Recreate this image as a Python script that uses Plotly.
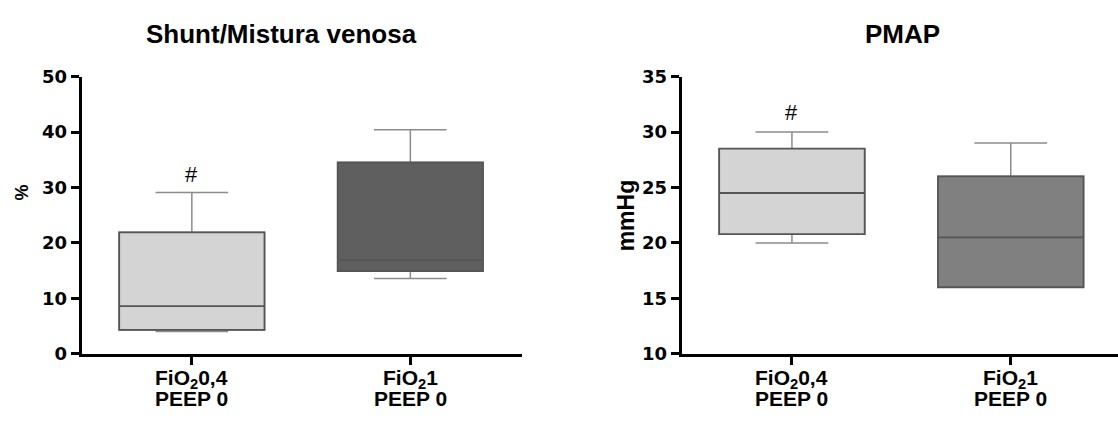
import plotly.graph_objects as go

# ---- data ----
cat_line1 = ["FiO<sub>2</sub>0,4", "FiO<sub>2</sub>1"]
cat_line2 = ["PEEP 0", "PEEP 0"]

shunt_min = [4.0, 13.6]
shunt_q1 = [4.3, 14.9]
shunt_median = [8.6, 16.9]
shunt_q3 = [21.9, 34.5]
shunt_max = [29.1, 40.4]
shunt_mark_y = [32.4]

pmap_min = [20.0, 16.0]
pmap_q1 = [20.8, 16.0]
pmap_median = [24.5, 20.5]
pmap_q3 = [28.5, 26.0]
pmap_max = [30.0, 29.0]
pmap_mark_y = [31.8]

shunt_colors = ["#d4d4d4", "#5f5f5f"]
pmap_colors = ["#d4d4d4", "#808080"]

W, H = 1118, 423
fig = go.Figure()
FONT = "Liberation Sans, Arial, sans-serif"
TICKFONT = "DejaVu Sans, sans-serif"


def add_boxes(xa, ya, mins, q1s, meds, q3s, maxs, colors):
    for i in range(len(cat_line1)):
        # whiskers (lighter line)
        fig.add_trace(go.Box(
            x=[i], q1=[q1s[i]], median=[meds[i]], q3=[q3s[i]],
            lowerfence=[mins[i]], upperfence=[maxs[i]],
            fillcolor=colors[i], line=dict(color="#8c8c8c", width=1.5),
            width=0.665, whiskerwidth=0.5, boxpoints=False,
            xaxis=xa, yaxis=ya, showlegend=False, hoverinfo="skip",
        ))
        # box body (darker outline)
        fig.add_trace(go.Box(
            x=[i], q1=[q1s[i]], median=[meds[i]], q3=[q3s[i]],
            lowerfence=[q1s[i]], upperfence=[q3s[i]],
            fillcolor=colors[i], line=dict(color="#555555", width=1.8),
            width=0.665, whiskerwidth=0.0, boxpoints=False,
            xaxis=xa, yaxis=ya, showlegend=False, hoverinfo="skip",
        ))


add_boxes("x", "y", shunt_min, shunt_q1, shunt_median, shunt_q3, shunt_max, shunt_colors)
add_boxes("x2", "y2", pmap_min, pmap_q1, pmap_median, pmap_q3, pmap_max, pmap_colors)

ydom = [0.1473, 0.8369]
axis_common = dict(showline=True, linecolor="black", linewidth=3, ticks="outside",
                   ticklen=8, tickwidth=3, tickcolor="black", showgrid=False, zeroline=False,
                   tickfont=dict(family=TICKFONT, size=18, color="black", weight="bold"))

fig.update_layout(
    width=W, height=H, margin=dict(l=0, r=0, t=0, b=0),
    paper_bgcolor="white", plot_bgcolor="white",
    xaxis=dict(domain=[0.0731, 0.4667], range=[-0.504, 1.51], tickvals=[0, 1],
               showticklabels=False, anchor="y", **axis_common),
    yaxis=dict(domain=ydom, range=[0, 50], tickvals=[0, 10, 20, 30, 40, 50], anchor="x",
               **axis_common),
    xaxis2=dict(domain=[0.6097, 1.0], range=[-0.504, 1.49], tickvals=[0, 1],
                showticklabels=False, anchor="y2", **axis_common),
    yaxis2=dict(domain=ydom, range=[10, 35], tickvals=[10, 15, 20, 25, 30, 35], anchor="x2",
                **axis_common),
)

bold = lambda s: dict(family=FONT, size=s, color="black", weight="bold")
ann = [
    dict(text="Shunt/Mistura venosa", x=281 / W, y=1 - 24 / H, xref="paper", yref="paper",
         xanchor="center", yanchor="middle", showarrow=False, font=bold(26)),
    dict(text="PMAP", x=902 / W, y=1 - 24 / H, xref="paper", yref="paper",
         xanchor="center", yanchor="middle", showarrow=False, font=bold(26)),
    dict(text="%", x=22 / W, y=1 - 191 / H, xref="paper", yref="paper", textangle=-90,
         xanchor="center", yanchor="middle", showarrow=False, font=bold(18)),
    dict(text="mmHg", x=626 / W, y=1 - 215 / H, xref="paper", yref="paper", textangle=-90,
         xanchor="center", yanchor="middle", showarrow=False, font=bold(23)),
    dict(text="#", x=0, y=shunt_mark_y[0], xref="x", yref="y", showarrow=False,
         xanchor="center", yanchor="middle", font=dict(family=FONT, size=22, color="black")),
    dict(text="#", x=0, y=pmap_mark_y[0], xref="x2", yref="y2", showarrow=False,
         xanchor="center", yanchor="middle", font=dict(family=FONT, size=22, color="black")),
]
for xa in ["x", "x2"]:
    for i in range(len(cat_line1)):
        ann.append(dict(text=cat_line1[i], x=i, y=1 - 387.5 / H, xref=xa, yref="paper",
                        xanchor="center", yanchor="middle", showarrow=False, font=bold(21)))
        ann.append(dict(text=cat_line2[i], x=i, y=1 - 407.5 / H, xref=xa, yref="paper",
                        xanchor="center", yanchor="middle", showarrow=False, font=bold(21)))
fig.update_layout(annotations=ann)

fig.write_html("out.html")
